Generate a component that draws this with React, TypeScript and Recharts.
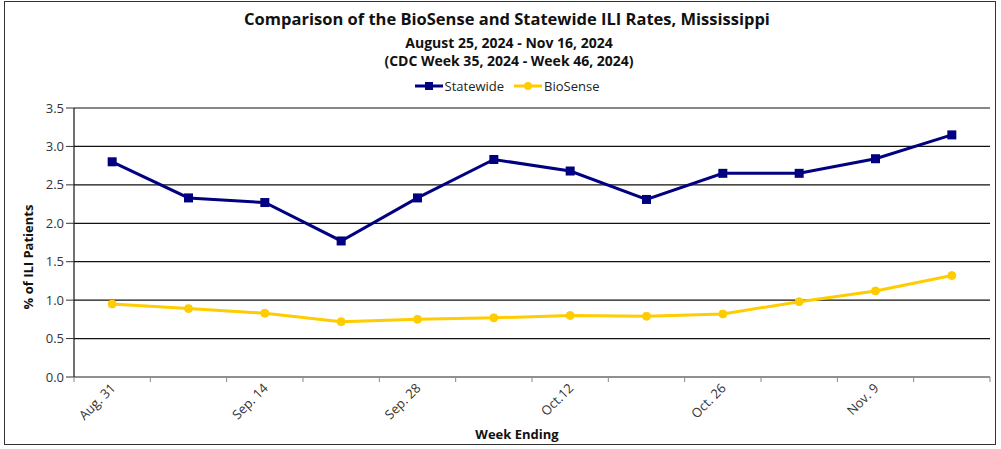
import { LineChart, Line, XAxis, YAxis, CartesianGrid } from "recharts";

// week-ending dates, CDC week 35 - 46 of 2024
const weeks = [
  "Aug. 31", "Sep. 7", "Sep. 14", "Sep. 21", "Sep. 28", "Oct. 5",
  "Oct.12", "Oct. 19", "Oct. 26", "Nov. 2", "Nov. 9", "Nov. 16",
];
const statewide = [2.8, 2.33, 2.27, 1.77, 2.33, 2.83, 2.68, 2.31, 2.65, 2.65, 2.84, 3.15];
const bioSense = [0.95, 0.89, 0.83, 0.72, 0.75, 0.77, 0.8, 0.79, 0.82, 0.98, 1.12, 1.32];
const yTicks = [0, 0.5, 1, 1.5, 2, 2.5, 3, 3.5];

const data = weeks.map((week, i) => ({
  week,
  Statewide: statewide[i],
  BioSense: bioSense[i],
}));

const FONT = "'Open Sans', sans-serif";
const NAVY = "#000080";
const GOLD = "#FFCC00";
const PLOT_W = 916;
const BAND = PLOT_W / weeks.length;

const XTick = (props: any) => {
  const { x, y, payload } = props;
  const idx = payload.index ?? props.index;
  const last = idx === weeks.length - 1;
  return (
    <g>
      <line x1={x - BAND / 2} x2={x - BAND / 2} y1={y} y2={y + 5} stroke="#888" />
      {last && <line x1={x + BAND / 2} x2={x + BAND / 2} y1={y} y2={y + 5} stroke="#888" />}
      {idx % 2 === 0 && (
        <text
          transform={`translate(${x + 4},${y + 12}) rotate(-45)`}
          textAnchor="end"
          fontSize={13}
          fill="#333"
          fontFamily={FONT}
        >
          {payload.value}
        </text>
      )}
    </g>
  );
};

const SquareDot = (props: any) => {
  const { cx, cy, index } = props;
  return <rect key={`sq-${index}`} x={cx - 4.5} y={cy - 4.5} width={9} height={9} fill={NAVY} />;
};

const legendItems = [
  { name: "Statewide", color: NAVY, square: true },
  { name: "BioSense", color: GOLD, square: false },
];

export default function App() {
  return (
    <div style={{ position: "absolute", left: 0, top: 0, width: 1001, height: 449, background: "#fff", fontFamily: FONT }}>
      <div style={{ position: "absolute", left: 4, top: 1, width: 992, height: 444, border: "1px solid #333", boxSizing: "border-box" }} />
      <div style={{ position: "absolute", left: 0, width: 1014, top: 8, textAlign: "center", fontWeight: 700, fontSize: 16.5, lineHeight: "22px", color: "#111" }}>
        Comparison of the BioSense and Statewide ILI Rates, Mississippi
      </div>
      <div style={{ position: "absolute", left: 0, width: 1018, top: 34, textAlign: "center", fontWeight: 700, fontSize: 14, lineHeight: "18px", color: "#111" }}>
        August 25, 2024 - Nov 16, 2024
      </div>
      <div style={{ position: "absolute", left: 0, width: 1018, top: 52, textAlign: "center", fontWeight: 700, fontSize: 14, lineHeight: "18px", color: "#111" }}>
        (CDC Week 35, 2024 - Week 46, 2024)
      </div>
      <div style={{ position: "absolute", left: 0, width: 1024, top: 77, display: "flex", justifyContent: "center", fontSize: 13, lineHeight: "18px", color: "#222" }}>
        {legendItems.map((s) => (
          <div key={s.name} style={{ display: "flex", alignItems: "center", marginRight: 10 }}>
            <svg width={28} height={10} style={{ marginRight: 2 }}>
              <line x1={0} x2={28} y1={5} y2={5} stroke={s.color} strokeWidth={3} />
              {s.square ? <rect x={10} y={1} width={8} height={8} fill={s.color} /> : <circle cx={14} cy={5} r={4} fill={s.color} />}
            </svg>
            <span>{s.name}</span>
          </div>
        ))}
      </div>
      <div
        style={{
          position: "absolute",
          left: 28,
          top: 257,
          transform: "translate(-50%, -50%) rotate(-90deg)",
          whiteSpace: "nowrap",
          fontWeight: 700,
          fontSize: 13,
          color: "#111",
        }}
      >
        % of ILI Patients
      </div>
      <div style={{ position: "absolute", left: 0, width: 1034, top: 425, textAlign: "center", fontWeight: 700, fontSize: 13, lineHeight: "18px", color: "#111" }}>
        Week Ending
      </div>
      <LineChart
        width={1001}
        height={449}
        data={data}
        margin={{ top: 108, right: 11, bottom: 22, left: 14 }}
        style={{ position: "absolute", left: 0, top: 0 }}
      >
        <CartesianGrid vertical={false} stroke="#111" strokeWidth={1.2} />
        <XAxis
          dataKey="week"
          interval={0}
          tickLine={false}
          tickSize={0}
          tickMargin={0}
          height={50}
          padding={{ left: BAND / 2, right: BAND / 2 }}
          axisLine={{ stroke: "#999" }}
          tick={<XTick />}
        />
        <YAxis
          domain={[0, 3.5]}
          ticks={yTicks}
          width={60}
          tickSize={8}
          tickLine={{ stroke: "#333" }}
          axisLine={{ stroke: "#111", strokeWidth: 1.2 }}
          tickFormatter={(v: number) => v.toFixed(1)}
          tick={{ fontSize: 13, fill: "#333", fontFamily: FONT }}
        />
        <YAxis
          yAxisId="frame"
          orientation="right"
          domain={[0, 3.5]}
          width={0}
          tick={false}
          tickLine={false}
          axisLine={{ stroke: "#111", strokeWidth: 1.2 }}
        />
        <Line
          dataKey="Statewide"
          stroke={NAVY}
          strokeWidth={3}
          dot={<SquareDot />}
          isAnimationActive={false}
        />
        <Line
          dataKey="BioSense"
          stroke={GOLD}
          strokeWidth={3}
          dot={{ r: 4, fill: GOLD, stroke: GOLD, strokeWidth: 1 }}
          isAnimationActive={false}
        />
      </LineChart>
    </div>
  );
}
